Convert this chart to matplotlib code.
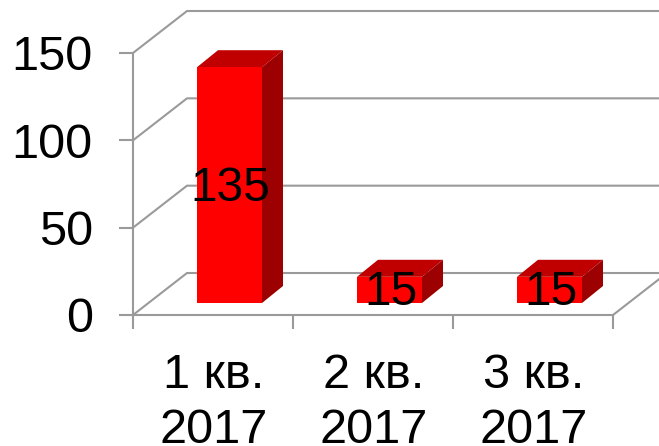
import matplotlib
matplotlib.use('Agg')
import matplotlib.pyplot as plt
from matplotlib.patches import Polygon

plt.rcParams['font.family'] = ['Liberation Sans', 'DejaVu Sans']

categories = ['1 кв.\n2017', '2 кв.\n2017', '3 кв.\n2017']
values = [135, 15, 15]
y_ticks = [0, 50, 100, 150]

W, H = 659, 446
fig = plt.figure(figsize=(W / 100, H / 100), dpi=100)
# front plane of the fake 3d box, in pixels: x 133-613, y 53-315
ax = fig.add_axes([133 / W, 1 - 315 / H, 480 / W, 262 / H])
ax.set_xlim(0, 3)
ax.set_ylim(0, 150)
ax.patch.set_alpha(0)

# depth of the box and of the bars, in data units
box_dx, box_dy = 54 / 160, 42 / 1.747
bar_dx, bar_dy = 21 / 160, 17 / 1.747
bar_w = 65 / 160
lift_y = 12 / 1.747  # bars stand a bit behind the front edge of the floor
grid_col = '#9a9a9a'
grid_lw = 1.5
right_end = 3.4

# grid on wall and floor
for v in y_ticks:
    ax.plot([0, box_dx, right_end], [v, v + box_dy, v + box_dy],
            color=grid_col, lw=grid_lw, clip_on=False, zorder=1)
ax.plot([3, 3 + box_dx], [0, box_dy], color=grid_col, lw=grid_lw, clip_on=False, zorder=1)

# bars, three faces each
for i, v in enumerate(values):
    x0 = i + 64 / 160
    x1 = x0 + bar_w
    y0 = lift_y
    y1 = y0 + v
    ax.add_patch(Polygon([(x0, y1), (x1, y1), (x1 + bar_dx, y1 + bar_dy), (x0 + bar_dx, y1 + bar_dy)],
                         fc='#c00000', ec='none', clip_on=False, zorder=3))
    ax.add_patch(Polygon([(x1, y0), (x1 + bar_dx, y0 + bar_dy), (x1 + bar_dx, y1 + bar_dy), (x1, y1)],
                         fc='#9c0000', ec='none', clip_on=False, zorder=3))
    ax.add_patch(Polygon([(x0, y0), (x1, y0), (x1, y1), (x0, y1)],
                         fc='#ff0000', ec='none', clip_on=False, zorder=4))
    ax.text(x0 + bar_w / 2 + 1 / 160, y0 + v / 2 - 3 / 1.747, str(v), fontsize=34.5,
            ha='center', va='center', color='black', zorder=5, clip_on=False)

for s in ['top', 'right']:
    ax.spines[s].set_visible(False)
for s in ['left', 'bottom']:
    ax.spines[s].set_color(grid_col)
    ax.spines[s].set_linewidth(grid_lw)

ax.set_yticks(y_ticks)
ax.set_xticks([0, 1, 2, 3])
ax.set_xticklabels([])
ax.tick_params(axis='y', color=grid_col, length=10, width=grid_lw, labelsize=35, pad=19)
ax.tick_params(axis='x', color=grid_col, length=10, width=grid_lw)
ax.set_xticks([0.5 + 1 / 160, 1.5 + 1 / 160, 2.5 + 1 / 160], labels=categories, minor=True)
ax.tick_params(axis='x', which='minor', length=0, labelsize=35, pad=27)
for lab in ax.get_xticklabels(minor=True):
    lab.set_linespacing(1.3)

fig.savefig('out.png', dpi=100)
